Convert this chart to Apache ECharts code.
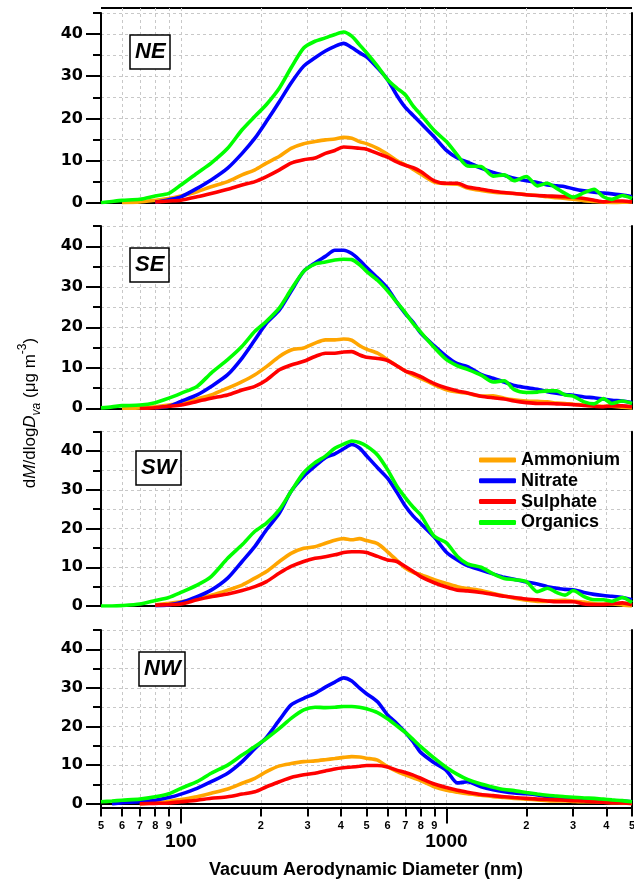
<!DOCTYPE html>
<html>
<head>
<meta charset="utf-8">
<script src="https://cdn.jsdelivr.net/npm/echarts@6/dist/echarts.min.js"></script>
<style>
  html, body { margin: 0; padding: 0; background: #fff; }
  #chart { width: 634px; height: 881px; }
</style>
</head>
<body>
<div id="chart"></div>
<script>
// vacuum aerodynamic diameter (nm), shared by every curve
const diam = [50, 55, 60, 70, 80, 90, 100, 115, 130, 150, 170, 190, 210, 235, 260, 290, 320, 350,
  380, 410, 440, 470, 500, 550, 600, 650, 700, 750, 800, 900, 1000, 1100, 1200, 1350, 1500, 1650,
  1800, 2000, 2200, 2400, 2600, 2800, 3000, 3300, 3600, 3900, 4200, 4600, 5000];

// NE
const neAmm = [null, null, 0, 0.2, 0.6, 1.0, 1.6, 2.6, 3.8, 5.0, 6.6, 7.8, 9.4, 11.0, 12.9, 14.0, 14.5, 14.9,
  15.1, 15.5, 15.3, 14.5, 14.0, 12.9, 11.5, 10, 9.0, 7.9, 6.8, 4.9, 4.5, 4.4, 3.5, 2.9, 2.5, 2.3,
  2.2, 1.9, 1.7, 1.4, 1.2, 1.0, 0.8, 0.5, 0.3, 0.1, 0.0, 0.1, 0.2];
const neNit = [null, null, null, null, 0.1, 0.7, 1.4, 3.4, 5.4, 8.2, 11.7, 15.3, 19.3, 24, 28.4, 32.4, 34.4, 36,
  37.1, 37.8, 36.8, 35.6, 34.6, 32, 29.2, 25.5, 22.6, 20.7, 18.9, 15.6, 12.4, 10.6, 9.6, 8.2, 7.2, 6.5,
  5.8, 5.2, 4.8, 4.2, 4.0, 3.8, 3.3, 2.8, 2.5, 2.3, 2.1, 1.8, 1.4];
const neSul = [null, null, null, null, 0.15, 0.4, 0.6, 1.4, 2.2, 3.2, 4.2, 5.0, 6.2, 7.8, 9.4, 10.2, 10.6, 11.7,
  12.4, 13.2, 13.1, 12.9, 12.7, 11.7, 10.8, 9.7, 8.9, 8.3, 7.4, 5.2, 4.6, 4.6, 3.7, 3.2, 2.7, 2.4,
  2.2, 1.9, 1.7, 1.6, 1.5, 1.4, 1.3, 1.0, 0.6, 0.2, 0.4, 0.4, 0.2];
const neOrg = [0, 0.3, 0.55, 0.8, 1.6, 2.2, 4.2, 7.0, 9.4, 12.9, 17.3, 20.5, 23.3, 27.2, 32, 36.7, 38.3, 39.1,
  39.9, 40.5, 39.5, 37.5, 35.6, 32.4, 29.2, 27.2, 25.6, 22.9, 20.9, 17.1, 14.5, 11.3, 8.7, 8.6, 6.3, 6.6,
  5.2, 6.2, 4.0, 4.6, 3.4, 2.2, 1.3, 2.4, 3.2, 1.4, 0.8, 1.7, 1.0];

// SE
const seAmm = [null, null, 0, 0.1, 0.35, 0.8, 1.2, 2.3, 3.3, 5.0, 6.6, 8.3, 10.3, 12.8, 14.4, 14.9, 16.1, 16.9,
  16.9, 17.1, 16.8, 15.5, 14.6, 13.6, 12.0, 10.5, 9.2, 8.2, 7.4, 5.8, 4.6, 4.0, 3.7, 3.0, 3.1, 2.5,
  2.1, 1.8, 1.7, 1.6, 1.3, 1.2, 1.0, 0.8, 0.6, 0.5, 0.5, 0.3, 0.1];
const seNit = [null, null, null, null, 0.1, 0.5, 1.7, 3.3, 5.4, 8.3, 12.4, 16.9, 21.0, 24.3, 28.9, 33.8, 35.9, 37.5,
  39.0, 39.0, 38.2, 36.6, 34.8, 32.2, 29.6, 26.2, 23.4, 21.2, 18.6, 15.4, 12.8, 11.0, 10.3, 8.4, 7.4, 6.5,
  5.6, 5.1, 4.7, 4.1, 3.7, 3.4, 3.2, 2.8, 2.6, 2.3, 2.0, 1.8, 1.4];
const seSul = [null, null, null, 0, 0.15, 0.5, 0.8, 1.7, 2.5, 3.3, 4.5, 5.4, 7.0, 9.5, 10.7, 11.6, 12.8, 13.6,
  13.6, 13.9, 14.0, 13.2, 12.6, 12.3, 11.8, 10.5, 9.2, 8.6, 7.8, 6.1, 5.0, 4.3, 3.8, 3.0, 2.6, 2.3,
  1.8, 1.4, 1.2, 1.2, 1.1, 1.0, 0.9, 0.7, 0.5, 0.4, 0.6, 0.6, 0.4];
const seOrg = [0.1, 0.35, 0.65, 0.8, 1.4, 2.5, 3.7, 5.4, 8.7, 12.0, 15.3, 19.0, 21.5, 24.8, 29.3, 33.8, 35.6, 36.1,
  36.6, 36.8, 36.7, 35.5, 33.8, 31.6, 29, 26.2, 23.6, 20.9, 18.8, 15, 12, 10.5, 9.6, 8.2, 6.5, 6.8,
  4.6, 3.9, 4.0, 4.3, 4.3, 3.3, 3.0, 1.6, 1.1, 2.4, 1.2, 1.8, 1.2];

// SW
const swAmm = [null, null, null, null, 0.3, 0.7, 1.1, 2.0, 2.8, 4.1, 5.4, 7.2, 8.9, 11.5, 13.6, 14.9, 15.3, 16.2,
  17.0, 17.4, 17.1, 17.4, 16.9, 16.1, 14.0, 11.8, 9.8, 8.7, 8.1, 6.8, 5.8, 5.0, 4.5, 4.0, 3.2, 2.6,
  2.0, 1.5, 1.2, 1.2, 1.4, 1.5, 1.3, 1.0, 0.6, 0.5, 0.5, 0.3, 0.0];
const swNit = [null, null, null, null, 0.1, 0.3, 0.9, 2.4, 4.1, 7.2, 11.5, 15.4, 19.7, 24.0, 29.6, 33.5, 36.1, 38.3,
  39.3, 40.6, 41.7, 40.8, 38.8, 35.7, 33.0, 29.4, 25.8, 23.2, 21.3, 17.8, 13.9, 11.9, 10.4, 9.3, 8.3, 7.4,
  6.9, 6.2, 5.7, 5.0, 4.6, 4.3, 4.2, 3.5, 3.0, 2.7, 2.5, 2.2, 1.6];
const swSul = [null, null, null, null, 0.2, 0.35, 0.5, 1.6, 2.4, 3.1, 4.0, 5.0, 6.3, 8.5, 10.2, 11.5, 12.3, 12.7,
  13.2, 13.8, 14.0, 14.0, 13.8, 12.8, 11.9, 11.5, 10.2, 8.9, 7.6, 6.0, 4.9, 4.1, 3.9, 3.5, 3.0, 2.5,
  2.2, 1.8, 1.6, 1.3, 1.1, 1.1, 1.1, 0.5, 0.4, 0.4, 0.6, 0.8, 0.3];
const swOrg = [0, 0, 0.1, 0.5, 1.4, 2.2, 3.5, 5.4, 7.6, 12.3, 15.8, 19.3, 21.4, 24.9, 29.6, 34.4, 37.0, 38.7,
  40.7, 41.8, 42.6, 42.2, 41.3, 39.0, 35.2, 31.0, 28.0, 25.5, 23.5, 18.0, 16.3, 12.8, 10.9, 10.0, 8.3, 7.1,
  6.8, 6.3, 3.7, 4.6, 3.5, 2.8, 4.0, 2.4, 1.6, 1.6, 1.2, 2.2, 0.9];

// NW
const nwAmm = [null, null, null, 0, 0.25, 0.6, 1.1, 1.8, 2.7, 3.8, 5.3, 6.6, 8.3, 9.8, 10.4, 10.9, 11.1, 11.4,
  11.7, 12.0, 12.2, 12.1, 11.8, 11.3, 9.6, 8.4, 7.5, 6.7, 6.0, 4.4, 3.5, 3.0, 2.6, 2.2, 1.8, 1.6,
  1.4, 1.2, 1.0, 0.8, 0.7, 0.7, 0.6, 0.5, 0.5, 0.4, 0.3, 0.2, 0.1];
const nwNit = [null, 0.0, 0.3, 0.5, 0.9, 1.6, 2.5, 4.0, 5.7, 7.9, 10.9, 14.3, 17.2, 21.7, 25.6, 27.3, 28.6, 30.2,
  31.5, 32.6, 31.8, 30.0, 28.5, 26.4, 23.0, 20.8, 18.5, 16.0, 13.3, 10.6, 8.6, 5.4, 5.7, 4.4, 3.6, 3.1,
  2.8, 2.6, 2.3, 1.8, 1.6, 1.4, 1.2, 1.1, 1.0, 0.9, 0.8, 0.7, 0.5];
const nwSul = [null, null, null, 0, 0.1, 0.2, 0.5, 0.9, 1.4, 1.8, 2.5, 3.1, 4.4, 5.7, 6.8, 7.5, 7.9, 8.5,
  9.0, 9.3, 9.5, 9.7, 9.9, 9.9, 9.5, 8.7, 8.1, 7.4, 6.6, 5.1, 4.2, 3.5, 3.0, 2.4, 2.1, 1.8,
  1.6, 1.4, 1.2, 1.1, 1.0, 0.9, 0.8, 0.7, 0.5, 0.4, 0.3, 0.2, 0.1];
const nwOrg = [0.5, 0.7, 0.9, 1.2, 1.8, 2.6, 4.0, 5.7, 7.9, 10.0, 12.6, 14.8, 16.9, 19.5, 22.1, 24.3, 25.0, 24.9,
  25.0, 25.2, 25.2, 25.0, 24.6, 23.6, 22.0, 20.2, 18.5, 16.6, 14.8, 11.8, 9.4, 7.6, 6.3, 5.1, 4.3, 3.7,
  3.4, 2.9, 2.5, 2.2, 2.0, 1.8, 1.7, 1.5, 1.4, 1.2, 1.0, 0.8, 0.5];

const panelNames = ['NE', 'SE', 'SW', 'NW'];
const species = ['Ammonium', 'Nitrate', 'Sulphate', 'Organics'];
const colors = ['#FFA500', '#0000FF', '#FF0000', '#00FF00'];
const panelData = [
  [neAmm, neNit, neSul, neOrg],
  [seAmm, seNit, seSul, seOrg],
  [swAmm, swNit, swSul, swOrg],
  [nwAmm, nwNit, nwSul, nwOrg]
];

// axis ticks (nm)
const xMinorTicks = [50, 60, 70, 80, 90, 200, 300, 400, 500, 600, 700, 800, 900, 2000, 3000, 4000, 5000];
const xMajorTicks = [100, 1000];
const xGridLines = [60, 70, 80, 90, 100, 200, 300, 400, 500, 600, 700, 800, 900, 1000, 2000, 3000, 4000];
const yMajorTicks = [0, 10, 20, 30, 40];
const yMinorTicks = [5, 15, 25, 35, 45];

const FONT = 'Arial, "Liberation Sans", Helvetica, sans-serif';
const WIDE = '"DejaVu Sans", Verdana, sans-serif';
const LOG_MIN = Math.log10(50);
const LOG_MAX = Math.log10(5000);
const lg = v => Math.log10(v);

const layout = [
  { top: 13, height: 189.7, min: 0, box: [130, 35] },
  { top: 226, height: 182.3, min: 0, box: [130, 248] },
  { top: 431.7, height: 174.3, min: 0, box: [136, 451] },
  { top: 630, height: 177.6, min: -1, box: [139, 652] }
];

const dashed = { color: '#c8c8c8', width: 1, type: [3, 3] };
const black2 = { color: '#000', width: 2 };

const grids = [], xAxes = [], yAxes = [], series = [], titles = [], graphics = [];

layout.forEach((p, i) => {
  grids.push({ left: 101, width: 531, top: p.top, height: p.height, outerBoundsMode: 'none', containLabel: false });

  // y axes: major (labels), minor, right frame
  const yBase = yAxes.length;
  yAxes.push({
    gridIndex: i, type: 'value', min: p.min, max: 45, position: 'left',
    axisLine: { show: true, onZero: false, lineStyle: black2 },
    axisTick: { show: true, length: 15, customValues: yMajorTicks, lineStyle: black2 },
    axisLabel: {
      customValues: yMajorTicks, margin: 18, color: '#000',
      fontSize: 16, fontWeight: 'bold', fontFamily: WIDE
    },
    splitLine: { show: true, showMinLine: false, lineStyle: dashed }
  });
  yAxes.push({
    gridIndex: i, type: 'value', min: p.min, max: 45, position: 'left',
    axisLine: { show: false },
    axisTick: { show: true, length: 8, customValues: yMinorTicks, lineStyle: black2 },
    axisLabel: { show: false },
    splitLine: { show: true, lineStyle: dashed }
  });
  yAxes.push({
    gridIndex: i, type: 'value', min: p.min, max: 45, position: 'right',
    axisLine: { show: true, onZero: false, lineStyle: black2 },
    axisTick: { show: false }, axisLabel: { show: false }, splitLine: { show: false }
  });

  const xBase = xAxes.length;
  if (i < 3) {
    xAxes.push({
      gridIndex: i, type: 'value', min: LOG_MIN, max: LOG_MAX, position: 'bottom',
      axisLine: { show: true, onZero: false, lineStyle: black2 },
      axisTick: { show: false }, axisLabel: { show: false }, splitLine: { show: false }
    });
  } else {
    xAxes.push({
      gridIndex: i, type: 'value', min: LOG_MIN, max: LOG_MAX, position: 'bottom',
      axisLine: { show: true, onZero: false, lineStyle: black2 },
      axisTick: { show: true, length: 9, customValues: xMinorTicks.map(lg), lineStyle: black2 },
      axisLabel: {
        customValues: xMinorTicks.map(lg), margin: 13, color: '#000',
        fontSize: 11, fontWeight: 'bold', fontFamily: FONT,
        formatter: v => {
          const n = Math.round(Math.pow(10, v));
          return String(Math.round(n / Math.pow(10, Math.floor(Math.log10(n) + 1e-9))));
        }
      },
      splitLine: { show: false }
    });
    xAxes.push({
      gridIndex: i, type: 'value', min: LOG_MIN, max: LOG_MAX, position: 'bottom',
      axisLine: { show: false, onZero: false },
      axisTick: { show: true, length: 16, customValues: xMajorTicks.map(lg), lineStyle: black2 },
      axisLabel: {
        customValues: xMajorTicks.map(lg), margin: 25, color: '#000',
        fontSize: 19, fontWeight: 'bold', fontFamily: FONT,
        formatter: v => String(Math.round(Math.pow(10, v)))
      },
      splitLine: { show: false }
    });
    // zero line
    xAxes.push({
      gridIndex: i, type: 'value', min: LOG_MIN, max: LOG_MAX, position: 'bottom',
      axisLine: { show: true, onZero: true, onZeroAxisIndex: yBase, lineStyle: black2 },
      axisTick: { show: false }, axisLabel: { show: false }, splitLine: { show: false }
    });
  }

  panelData[i].forEach((arr, k) => {
    series.push({
      name: species[k], type: 'line', xAxisIndex: xBase, yAxisIndex: yBase,
      data: diam.map((d, j) => [lg(d), arr[j] == null ? '-' : arr[j]]),
      showSymbol: false, symbol: 'none', smooth: 0.25,
      lineStyle: { color: colors[k], width: 3.6 },
      itemStyle: { color: colors[k] },
      z: 3 + k, silent: true
    });
  });

  // boxed panel label
  titles.push({
    text: panelNames[i], left: p.box[0], top: p.box[1],
    padding: [6, 5], borderColor: '#000', borderWidth: 1.5, backgroundColor: '#fff',
    textStyle: { fontSize: 22, fontWeight: 'bold', fontStyle: 'italic', fontFamily: FONT, color: '#000' },
    z: 20
  });
});

// background grid for the vertical dashed lines through all panels
grids.push({ left: 101, width: 531, top: 8, height: 800, outerBoundsMode: 'none', containLabel: false });
xAxes.push({
  gridIndex: 4, type: 'value', min: LOG_MIN, max: LOG_MAX,
  axisLine: { show: false }, axisTick: { show: false, customValues: xGridLines.map(lg) },
  axisLabel: { show: false }, splitLine: { show: true, lineStyle: dashed }, z: 0
});
yAxes.push({ gridIndex: 4, type: 'value', min: 0, max: 1, show: false });

// top frame of the first panel
graphics.push({ type: 'line', shape: { x1: 101, y1: 8, x2: 632, y2: 8 }, style: { stroke: '#000', lineWidth: 2 } });

// y title
graphics.push({
  type: 'text', x: 30, y: 413, rotation: Math.PI / 2,
  style: {
    text: '{n|d}{i|M}{n|/dlog}{i|D}{s|va}{n| (μg m}{p|-3}{n|)}',
    align: 'center', verticalAlign: 'middle', fill: '#000',
    rich: {
      n: { fontSize: 17, fontFamily: FONT, lineHeight: 26 },
      i: { fontSize: 17, fontFamily: FONT, fontStyle: 'italic', lineHeight: 26 },
      s: { fontSize: 12, fontFamily: FONT, fontStyle: 'italic', lineHeight: 26, verticalAlign: 'bottom' },
      p: { fontSize: 12, fontFamily: FONT, lineHeight: 26, verticalAlign: 'top' }
    }
  }
});

// x title
graphics.push({
  type: 'text', x: 366, y: 870,
  style: { text: 'Vacuum Aerodynamic Diameter (nm)', align: 'center', verticalAlign: 'middle',
    fontSize: 18, fontWeight: 'bold', fontFamily: FONT, fill: '#000' }
});

const chart = echarts.init(document.getElementById('chart'));
chart.setOption({
  animation: false,
  backgroundColor: '#fff',
  title: titles,
  grid: grids,
  xAxis: xAxes,
  yAxis: yAxes,
  legend: {
    data: species, orient: 'vertical', left: 474, top: 446,
    itemWidth: 37, itemHeight: 5, icon: 'roundRect', itemGap: 2.8,
    selectedMode: false,
    textStyle: { fontSize: 18, fontWeight: 'bold', fontFamily: FONT, color: '#000', lineHeight: 18 }
  },
  graphic: graphics,
  series: series
});
</script>
</body>
</html>
